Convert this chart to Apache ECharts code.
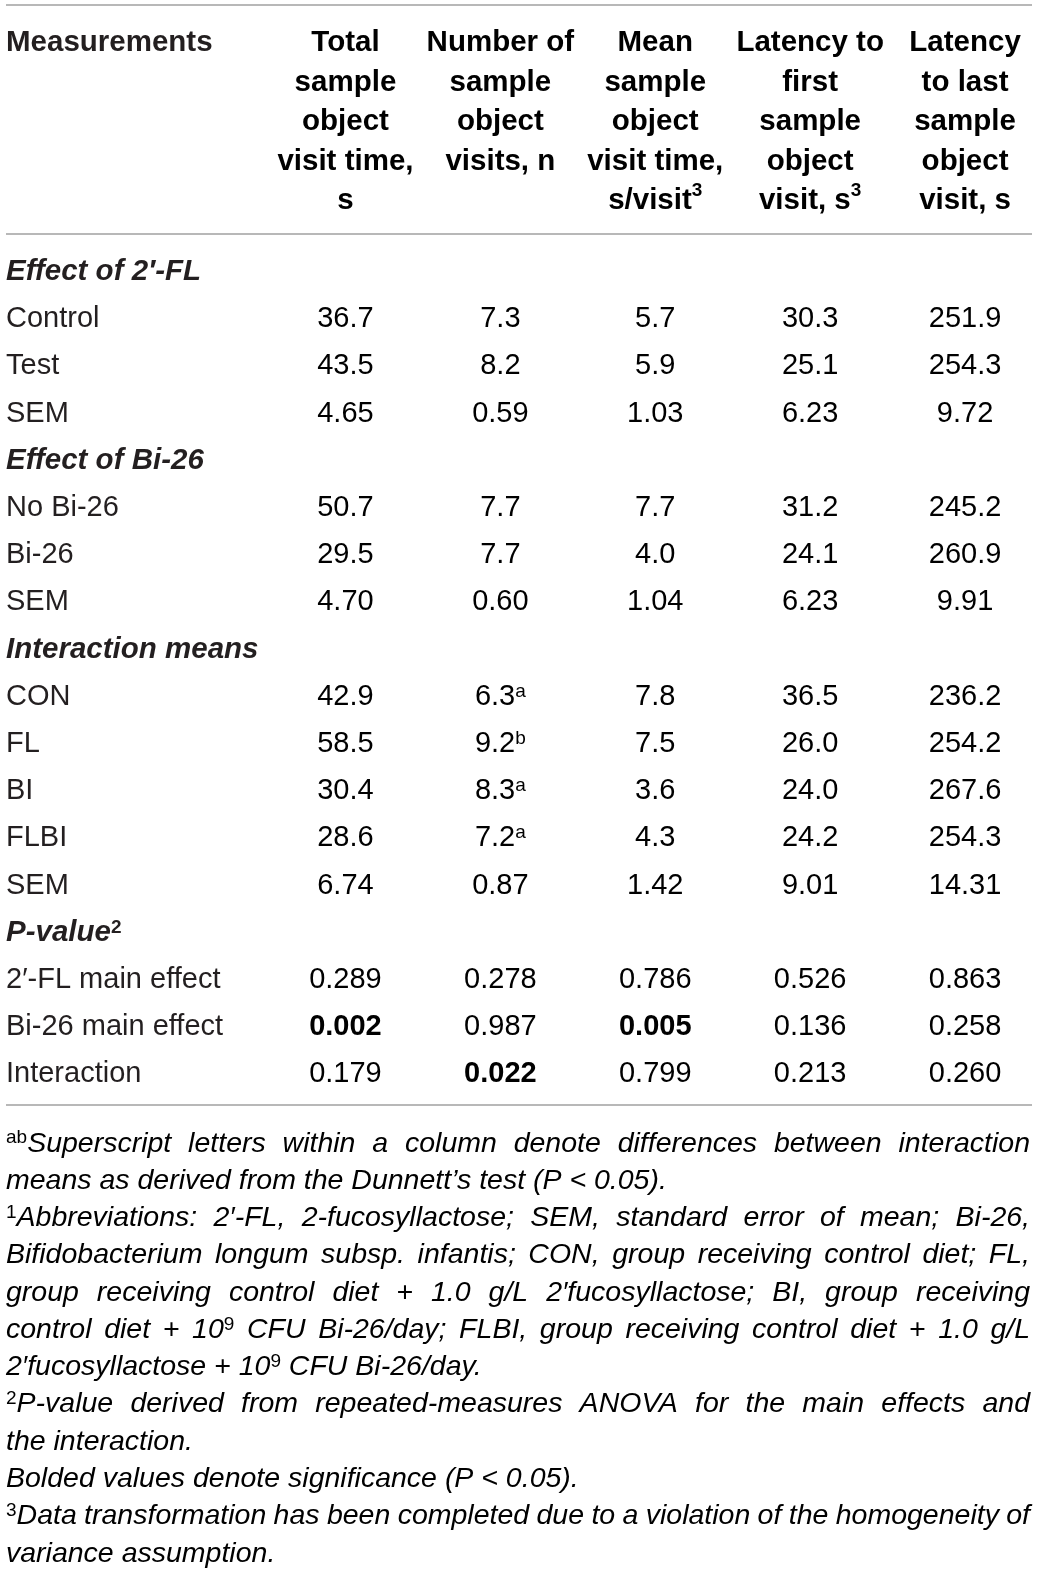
<!DOCTYPE html>
<html>
<head>
<meta charset="utf-8">
<script src="https://cdn.jsdelivr.net/npm/echarts@6/dist/echarts.min.js"></script>
<style>
  html, body { margin: 0; padding: 0; background: #fff; }
  #chart { width: 1043px; height: 1575px; }
</style>
</head>
<body>
<div id="chart"></div>
<script>
// ---- table data ----
const rowLabels = [
  'Effect of 2′-FL', 'Control', 'Test', 'SEM',
  'Effect of Bi-26', 'No Bi-26', 'Bi-26', 'SEM',
  'Interaction means', 'CON', 'FL', 'BI', 'FLBI', 'SEM',
  'P-value', '2′-FL main effect', 'Bi-26 main effect', 'Interaction'
];
const rowLabelSup = ['', '', '', '', '', '', '', '', '', '', '', '', '', '', '2', '', '', ''];
const sectionRows = [0, 4, 8, 14];
const pValueRows = [15, 16, 17];

const columnHeaders = [
  'Total\nsample\nobject\nvisit time,\ns',
  'Number of\nsample\nobject\nvisits, n',
  'Mean\nsample\nobject\nvisit time,\ns/visit^{3}',
  'Latency to\nfirst\nsample\nobject\nvisit, s^{3}',
  'Latency\nto last\nsample\nobject\nvisit, s'
];

const totalVisitTime = [null, '36.7', '43.5', '4.65', null, '50.7', '29.5', '4.70', null, '42.9', '58.5', '30.4', '28.6', '6.74', null, '0.289', '0.002', '0.179'];
const numberOfVisits = [null, '7.3', '8.2', '0.59', null, '7.7', '7.7', '0.60', null, '6.3', '9.2', '8.3', '7.2', '0.87', null, '0.278', '0.987', '0.022'];
const numberOfVisitsSup = ['', '', '', '', '', '', '', '', '', 'a', 'b', 'a', 'a', '', '', '', '', ''];
const meanVisitTime = [null, '5.7', '5.9', '1.03', null, '7.7', '4.0', '1.04', null, '7.8', '7.5', '3.6', '4.3', '1.42', null, '0.786', '0.005', '0.799'];
const latencyFirst = [null, '30.3', '25.1', '6.23', null, '31.2', '24.1', '6.23', null, '36.5', '26.0', '24.0', '24.2', '9.01', null, '0.526', '0.136', '0.213'];
const latencyLast = [null, '251.9', '254.3', '9.72', null, '245.2', '260.9', '9.91', null, '236.2', '254.2', '267.6', '254.3', '14.31', null, '0.863', '0.258', '0.260'];

const footnoteLines = [
  '^{ab}Superscript letters within a column denote differences between interaction',
  'means as derived from the Dunnett’s test (P < 0.05).',
  '^{1}Abbreviations: 2′-FL, 2-fucosyllactose; SEM, standard error of mean; Bi-26,',
  'Bifidobacterium longum subsp. infantis; CON, group receiving control diet; FL,',
  'group receiving control diet + 1.0 g/L 2′fucosyllactose; BI, group receiving',
  'control diet + 10^{9} CFU Bi-26/day; FLBI, group receiving control diet + 1.0 g/L',
  '2′fucosyllactose + 10^{9} CFU Bi-26/day.',
  '^{2}P-value derived from repeated-measures ANOVA for the main effects and',
  'the interaction.',
  'Bolded values denote significance (P < 0.05).',
  '^{3}Data transformation has been completed due to a violation of the homogeneity of',
  'variance assumption.'
];
const footnoteJustified = [true, false, true, true, true, true, false, true, false, false, true, false];

// ---- styles ----
const FAMILY = '"Liberation Sans", Arial, sans-serif';
const INK = '#231f20';
const RULE = '#a0a0a0';
const SIZE = 29;
const BOLD_SIZE = 29.5;
const FOOT_SIZE = 28.5;
const SUP_SIZE = 19;

const cellRich = {
  v: { fontFamily: FAMILY, fontSize: SIZE, color: INK, lineHeight: 30 },
  vb: { fontFamily: FAMILY, fontSize: SIZE, fontWeight: 'bold', color: INK, lineHeight: 30 },
  sup: { fontFamily: FAMILY, fontSize: SUP_SIZE, color: INK, verticalAlign: 'top' }
};
const headRich = {
  h: { fontFamily: FAMILY, fontSize: BOLD_SIZE, fontWeight: 'bold', color: INK, lineHeight: 39.5 },
  hs: { fontFamily: FAMILY, fontSize: SUP_SIZE, fontWeight: 'bold', color: INK, verticalAlign: 'top' }
};
const rowRich = {
  r: { fontFamily: FAMILY, fontSize: SIZE, color: INK, lineHeight: 30 },
  sec: { fontFamily: FAMILY, fontSize: BOLD_SIZE, fontWeight: 'bold', fontStyle: 'italic', color: INK, lineHeight: 30 },
  secs: { fontFamily: FAMILY, fontSize: SUP_SIZE, fontWeight: 'bold', color: INK, verticalAlign: 'top' },
  m: { fontFamily: FAMILY, fontSize: BOLD_SIZE, fontWeight: 'bold', color: INK, lineHeight: 39.5 }
};
const FOOT_FONT = 'italic ' + FOOT_SIZE + 'px ' + FAMILY;
const FOOT_SUP_FONT = SUP_SIZE + 'px ' + FAMILY;
const footRich = {
  fi: { fontFamily: FAMILY, fontSize: FOOT_SIZE, fontStyle: 'italic', color: INK, lineHeight: 30 },
  fs: { fontFamily: FAMILY, fontSize: SUP_SIZE, color: INK, verticalAlign: 'top' }
};

// '^{x}' marks a superscript
function segments(str) {
  const out = [];
  const re = /\^\{([^}]*)\}/g;
  let last = 0, m;
  while ((m = re.exec(str)) !== null) {
    if (m.index > last) out.push({ text: str.slice(last, m.index), sup: false });
    out.push({ text: m[1], sup: true });
    last = re.lastIndex;
  }
  if (last < str.length) out.push({ text: str.slice(last), sup: false });
  return out;
}
function toRich(str, base, sup) {
  return str.split('\n').map(line =>
    segments(line).map(s => '{' + (s.sup ? sup : base) + '|' + s.text + '}').join('')
  ).join('\n');
}

const measureCtx = document.createElement('canvas').getContext('2d');
function textWidth(text, font) {
  measureCtx.font = font;
  return measureCtx.measureText(text).width;
}

// ---- cells ----
const valueColumns = [totalVisitTime, numberOfVisits, meanVisitTime, latencyFirst, latencyLast];
const cells = [];
valueColumns.forEach((col, c) => {
  col.forEach((v, r) => {
    if (v === null) return;
    cells.push({
      col: c,
      row: r,
      text: v,
      sup: c === 1 ? numberOfVisitsSup[r] : '',
      bold: pValueRows.includes(r) && parseFloat(v) < 0.05
    });
  });
});

function renderCell(params, api) {
  const cell = cells[params.dataIndex];
  const p = api.coord([cell.col, cell.row]);
  let text = '{' + (cell.bold ? 'vb' : 'v') + '|' + cell.text + '}';
  if (cell.sup) text += '{sup|' + cell.sup + '}';
  return {
    type: 'text',
    x: p[0],
    y: p[1],
    style: { text: text, rich: cellRich, align: 'center', verticalAlign: 'middle' }
  };
}

function renderHeader(params, api) {
  const i = params.dataIndex;
  const p = api.coord([i, 0]);
  return {
    type: 'text',
    x: p[0],
    y: params.coordSys.y,
    style: { text: toRich(columnHeaders[i], 'h', 'hs'), rich: headRich, align: 'center', verticalAlign: 'top' }
  };
}

function renderFootnote(params, api) {
  const i = params.dataIndex;
  const y = api.coord([0, i])[1];
  const left = params.coordSys.x;
  const width = params.coordSys.width;
  const parts = footnoteLines[i].split(' ').map(word => {
    const segs = segments(word);
    let w = 0;
    segs.forEach(s => { w += textWidth(s.text, s.sup ? FOOT_SUP_FONT : FOOT_FONT); });
    return { rich: segs.map(s => '{' + (s.sup ? 'fs' : 'fi') + '|' + s.text + '}').join(''), width: w };
  });
  const total = parts.reduce((a, p) => a + p.width, 0);
  const gap = footnoteJustified[i] && parts.length > 1
    ? (width - total) / (parts.length - 1)
    : textWidth(' ', FOOT_FONT);
  let x = left;
  const children = parts.map(p => {
    const el = {
      type: 'text',
      x: x,
      y: y,
      style: { text: p.rich, rich: footRich, align: 'left', verticalAlign: 'middle' }
    };
    x += p.width + gap;
    return el;
  });
  return { type: 'group', children: children };
}

// ---- chart ----
const chart = echarts.init(document.getElementById('chart'), null, { renderer: 'canvas' });

const colCategories = ['total', 'visits', 'mean', 'first', 'last'];
const hiddenAxis = { show: false };
const LABEL_MARGIN = 262;

chart.setOption({
  backgroundColor: '#fff',
  animation: false,
  grid: [
    { left: 268, right: 0.5, top: 23.5, height: 39.5, outerBoundsMode: 'none' },
    { left: 268, right: 0.5, top: 248.4, height: 849.6, outerBoundsMode: 'none' },
    { left: 6, right: 13, top: 1125, height: 447.3, outerBoundsMode: 'none' }
  ],
  xAxis: [
    Object.assign({ type: 'category', gridIndex: 0, data: colCategories }, hiddenAxis),
    Object.assign({ type: 'category', gridIndex: 1, data: colCategories }, hiddenAxis),
    Object.assign({ type: 'value', gridIndex: 2, min: 0, max: 1 }, hiddenAxis)
  ],
  yAxis: [
    {
      type: 'category', gridIndex: 0, data: ['Measurements'], inverse: true,
      axisLine: { show: false }, axisTick: { show: false }, splitLine: { show: false },
      axisLabel: {
        interval: 0, align: 'left', margin: LABEL_MARGIN,
        formatter: v => '{m|' + v + '}', rich: rowRich
      }
    },
    {
      type: 'category', gridIndex: 1, data: rowLabels, inverse: true,
      axisLine: { show: false }, axisTick: { show: false }, splitLine: { show: false },
      axisLabel: {
        interval: 0, align: 'left', margin: LABEL_MARGIN,
        formatter: (v, idx) => {
          if (sectionRows.includes(idx)) {
            return '{sec|' + v + '}' + (rowLabelSup[idx] ? '{secs|' + rowLabelSup[idx] + '}' : '');
          }
          return '{r|' + v + '}';
        },
        rich: rowRich
      }
    },
    Object.assign({ type: 'category', gridIndex: 2, data: footnoteLines.map((l, i) => 'n' + i), inverse: true }, hiddenAxis)
  ],
  graphic: [
    { type: 'line', shape: { x1: 6, y1: 5, x2: 1032, y2: 5 }, style: { stroke: RULE, lineWidth: 1.5 } },
    { type: 'line', shape: { x1: 6, y1: 234, x2: 1032, y2: 234 }, style: { stroke: RULE, lineWidth: 1.5 } },
    { type: 'line', shape: { x1: 6, y1: 1105, x2: 1032, y2: 1105 }, style: { stroke: RULE, lineWidth: 1.5 } }
  ],
  series: [
    {
      type: 'custom', name: 'header', xAxisIndex: 0, yAxisIndex: 0, clip: false,
      data: columnHeaders.map((h, i) => [i, 0]),
      encode: { x: 0, y: 1 },
      renderItem: renderHeader
    },
    {
      type: 'custom', name: 'cells', xAxisIndex: 1, yAxisIndex: 1, clip: false,
      data: cells.map(c => [c.col, c.row]),
      encode: { x: 0, y: 1 },
      renderItem: renderCell
    },
    {
      type: 'custom', name: 'footnotes', xAxisIndex: 2, yAxisIndex: 2, clip: false,
      data: footnoteLines.map((l, i) => [0, i]),
      encode: { x: 0, y: 1 },
      renderItem: renderFootnote
    }
  ]
});
</script>
</body>
</html>
